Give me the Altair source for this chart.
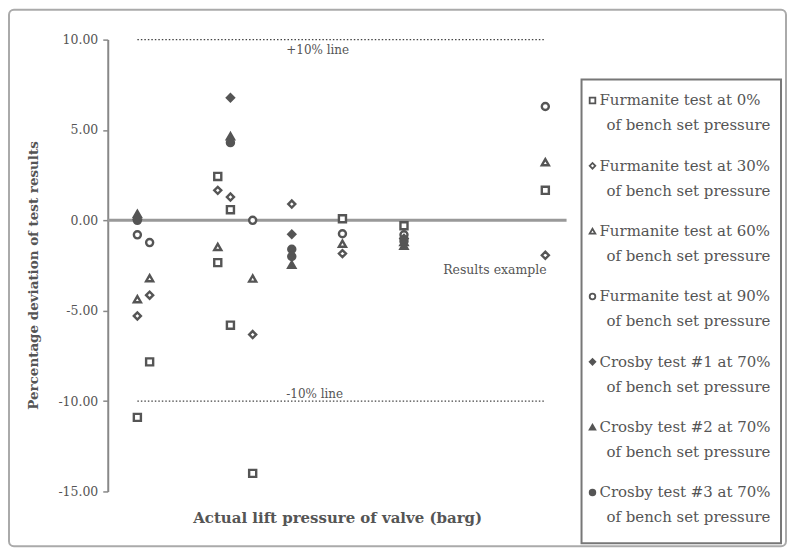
import altair as alt
import pandas as pd

# ---------------- data ----------------
series = ["F0", "F30", "F60", "F90", "C1", "C2", "C3"]
line1 = ["Furmanite test at 0%", "Furmanite test at 30%", "Furmanite test at 60%",
         "Furmanite test at 90%", "Crosby test #1 at 70%", "Crosby test #2 at 70%",
         "Crosby test #3 at 70%"]
line2 = ["of bench set pressure"] * 7
shapes = ["square", "diamond", "triangle-up", "circle", "diamond", "triangle-up", "circle"]
fills = ["white", "white", "white", "white", "#555555", "#555555", "#555555"]
sizes = [50, 50, 50, 50, 65, 65, 65]

f0_x = [2.97, 4.2, 11.03, 11.03, 12.3, 12.3, 14.53, 23.53, 29.7, 43.87]
f0_y = [-10.9, -7.83, 2.43, -2.34, 0.59, -5.8, -14.0, 0.09, -0.3, 1.66]
f30_x = [2.97, 4.2, 11.03, 12.3, 14.53, 18.45, 23.53, 29.7, 43.87]
f30_y = [-5.29, -4.14, 1.66, 1.29, -6.32, 0.9, -1.84, -1.0, -1.93]
f60_x = [2.97, 4.2, 11.03, 14.53, 23.53, 29.7, 43.87]
f60_y = [-4.36, -3.2, -1.47, -3.22, -1.29, -1.2, 3.22]
f90_x = [2.97, 4.2, 14.53, 23.53, 29.7, 43.87]
f90_y = [-0.8, -1.23, 0.0, -0.74, -0.8, 6.3]
c1_x = [2.97, 12.3, 18.45, 29.7]
c1_y = [0.05, 6.78, -0.77, -1.0]
c2_x = [2.97, 12.3, 18.45, 29.7]
c2_y = [0.35, 4.65, -2.45, -1.4]
c3_x = [2.97, 12.3, 18.45, 18.45, 29.7]
c3_y = [0.0, 4.3, -1.6, -2.0, -1.15]

limit_x = [2.97, 43.87]
limit_y = [10.0, -10.0]
zero_x = [0.0, 46.0]

note_text = ["+10% line", "-10% line", "Results example"]
note_x = [17.9, 17.9, 44.0]
note_y = [9.45, -9.6, -2.76]
note_align = ["left", "left", "right"]

y_ticks = [-15, -10, -5, 0, 5, 10]

# ---------------- tables ----------------
rows = []
for name, xs, ys in zip(series, [f0_x, f30_x, f60_x, f90_x, c1_x, c2_x, c3_x],
                        [f0_y, f30_y, f60_y, f90_y, c1_y, c2_y, c3_y]):
    for xv, yv in zip(xs, ys):
        rows.append({"series": name, "pressure": xv, "value": yv})
pts = pd.DataFrame(rows)

lim = pd.DataFrame({"pressure": [limit_x[0]] * 2, "pressure2": [limit_x[1]] * 2, "value": limit_y})
zero = pd.DataFrame({"pressure": [zero_x[0]], "pressure2": [zero_x[1]], "value": [0.0]})
notes = pd.DataFrame({"pressure": note_x, "value": note_y, "txt": note_text, "al": note_align})
leg = pd.DataFrame({"idx": list(range(7)), "series": series, "line1": line1, "line2": line2})
one = pd.DataFrame({"a": [0]})

FONT = "DejaVu Serif"
GREY = "#555555"

x_scale = alt.Scale(domain=[0, 46], nice=False, zero=False)
y_scale = alt.Scale(domain=[-15, 10], nice=False, zero=False)
x_axis = alt.Axis(title="Actual lift pressure of valve  (barg)", labels=False, ticks=False,
                  domain=False, grid=False, titleFont=FONT, titleFontSize=15,
                  titleFontWeight="bold", titleColor=GREY, titlePadding=19)
y_axis = alt.Axis(title="Percentage deviation of test results", values=y_ticks,
                  labelExpr="(datum.value < 0 ? '-' : '') + format(abs(datum.value), '.2f')",
                  grid=False, domainColor="#888888", domainWidth=2, tickColor="#888888",
                  tickWidth=1.5, tickSize=5, labelPadding=5, labelFont=FONT,
                  labelFontSize=12.5, labelColor=GREY, titleFont=FONT, titleFontSize=13.5,
                  titleFontWeight="bold", titleColor=GREY, titlePadding=17, titleY=236)


def X(f="pressure"):
    return alt.X(f"{f}:Q", scale=x_scale, axis=x_axis, title="Actual lift pressure of valve  (barg)")


def Y(f="value"):
    return alt.Y(f"{f}:Q", scale=y_scale, axis=y_axis, title="Percentage deviation of test results")


shape_enc = alt.Shape("series:N", scale=alt.Scale(domain=series, range=shapes), legend=None)
fill_enc = alt.Fill("series:N", scale=alt.Scale(domain=series, range=fills), legend=None)
size_enc = alt.Size("series:N", scale=alt.Scale(domain=series, range=sizes), legend=None)

zero_rule = alt.Chart(zero).mark_rule(stroke="#999999", strokeWidth=3).encode(
    x=X(), x2="pressure2:Q", y=Y())
lim_rule = alt.Chart(lim).mark_rule(stroke="#444444", strokeWidth=1.3, strokeDash=[1.5, 2]).encode(
    x=X(), x2="pressure2:Q", y=Y())
points = alt.Chart(pts).mark_point(strokeWidth=2.4, opacity=1, stroke=GREY).encode(
    x=X(), y=Y(), shape=shape_enc, fill=fill_enc, size=size_enc)
note_l = alt.Chart(notes[notes.al == "left"]).mark_text(
    align="left", baseline="middle", font=FONT, fontSize=12, color=GREY).encode(
    x=X(), y=Y(), text="txt:N")
note_r = alt.Chart(notes[notes.al == "right"]).mark_text(
    align="right", baseline="middle", font=FONT, fontSize=12.5, color=GREY).encode(
    x=X(), y=Y(), text="txt:N")

main = alt.layer(zero_rule, lim_rule, points, note_l, note_r)

leg_y = alt.Y("idx:Q", scale=alt.Scale(domain=[0, 6], range=[61, 454]), axis=None)
frame = alt.Chart(one).mark_rect(fill="transparent", stroke="#aaaaaa", strokeWidth=2,
                                 cornerRadius=5).encode(
    x=alt.value(-99), x2=alt.value(680), y=alt.value(-30), y2=alt.value(508))
box = alt.Chart(one).mark_rect(fill="white", stroke="#777777", strokeWidth=2).encode(
    x=alt.value(475), x2=alt.value(675), y=alt.value(40), y2=alt.value(505))
leg_pts = alt.Chart(leg).mark_point(strokeWidth=1.8, opacity=1, stroke=GREY, size=32).encode(
    x=alt.value(486), y=leg_y, shape=shape_enc, fill=fill_enc)
leg_t1 = alt.Chart(leg).mark_text(align="left", baseline="middle", font=FONT, fontSize=15,
                                  color=GREY).encode(x=alt.value(493), y=leg_y, text="line1:N")
leg_t2 = alt.Chart(leg).mark_text(align="left", baseline="middle", font=FONT, fontSize=15,
                                  color=GREY, dy=25).encode(x=alt.value(500), y=leg_y, text="line2:N")
legend = alt.layer(frame, box, leg_pts, leg_t1, leg_t2)

chart = alt.layer(main, legend).resolve_scale(y="independent").properties(
    width=460, height=453, padding=0, background="white"
).configure_view(strokeWidth=0)

chart.save("out.html", embed_options={"renderer": "svg", "actions": False})
